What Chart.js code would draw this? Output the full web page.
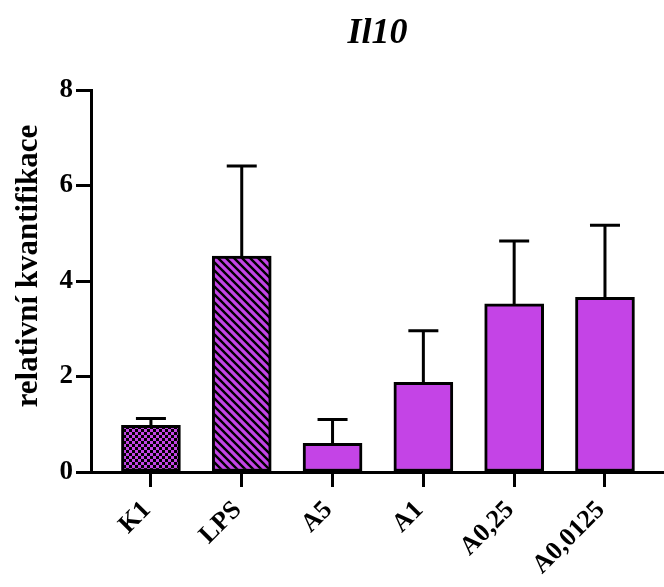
<!DOCTYPE html>
<html>
<head>
<meta charset="utf-8">
<script src="https://cdn.jsdelivr.net/npm/chart.js@4/dist/chart.umd.min.js"></script>
<style>
  html, body { margin: 0; padding: 0; background: #ffffff; }
  #wrap { width: 664px; height: 587px; position: relative; }
</style>
</head>
<body>
<div id="wrap"><canvas id="c" width="664" height="587"></canvas></div>
<script>
const chartTitle = 'Il10';
const yAxisTitle = 'relativní kvantifikace';
const categories = ['K1', 'LPS', 'A5', 'A1', 'A0,25', 'A0,0125'];
const means = [0.98, 4.52, 0.60, 1.88, 3.52, 3.66];
const sdUpper = [0.14, 1.89, 0.50, 1.08, 1.32, 1.51];
const yTicks = [0, 2, 4, 6, 8];

const PURPLE = '#c444e6';
const FONT = '"Liberation Serif", "DejaVu Serif", serif';

function checkerPattern() {
  const c = document.createElement('canvas');
  c.width = 6; c.height = 6;
  const g = c.getContext('2d');
  g.fillStyle = PURPLE; g.fillRect(0, 0, 6, 6);
  g.fillStyle = '#000';
  g.fillRect(0, 0, 3, 3); g.fillRect(3, 3, 3, 3);
  return g.createPattern(c, 'repeat');
}
function stripePattern() {
  const s = 8;
  const c = document.createElement('canvas');
  c.width = s; c.height = s;
  const g = c.getContext('2d');
  g.fillStyle = PURPLE; g.fillRect(0, 0, s, s);
  g.strokeStyle = '#000'; g.lineWidth = 2.4;
  g.beginPath();
  g.moveTo(-s, -s); g.lineTo(2 * s, 2 * s);
  g.moveTo(-s, 0); g.lineTo(s, 2 * s);
  g.moveTo(0, -s); g.lineTo(2 * s, s);
  g.stroke();
  return g.createPattern(c, 'repeat');
}

const fills = categories.map((_, i) => i === 0 ? checkerPattern() : (i === 1 ? stripePattern() : PURPLE));

const errorBars = {
  id: 'errorBars',
  afterDatasetsDraw(chart) {
    const ctx = chart.ctx;
    const meta = chart.getDatasetMeta(0);
    const ys = chart.scales.y;
    ctx.save();
    ctx.strokeStyle = '#000';
    ctx.lineWidth = 3;
    ctx.lineCap = 'butt';
    meta.data.forEach((bar, i) => {
      const top = ys.getPixelForValue(means[i] + sdUpper[i]);
      const base = bar.y;
      ctx.beginPath();
      ctx.moveTo(bar.x, base);
      ctx.lineTo(bar.x, top);
      ctx.moveTo(bar.x - 15, top);
      ctx.lineTo(bar.x + 15, top);
      ctx.stroke();
    });
    ctx.restore();
  }
};

const titlePlugin = {
  id: 'topTitle',
  afterDraw(chart) {
    const ctx = chart.ctx;
    const a = chart.chartArea;
    ctx.save();
    ctx.fillStyle = '#000';
    ctx.font = 'italic bold 36px ' + FONT;
    ctx.textAlign = 'center';
    ctx.textBaseline = 'alphabetic';
    ctx.fillText(chartTitle, (a.left + a.right) / 2, 43);
    // y axis title
    ctx.translate(29, (a.top + a.bottom) / 2 - 15);
    ctx.rotate(-Math.PI / 2);
    ctx.font = 'bold 31px ' + FONT;
    ctx.textBaseline = 'middle';
    ctx.fillText(yAxisTitle, 0, 0);
    ctx.restore();
  }
};

new Chart(document.getElementById('c'), {
  type: 'bar',
  data: {
    datasets: [{
      data: means.map((v, i) => ({ x: i, y: v })),
      backgroundColor: fills,
      borderColor: '#000',
      borderWidth: 3,
      borderSkipped: false,
      barThickness: 59
    }]
  },
  options: {
    responsive: false,
    animation: false,
    devicePixelRatio: 1,
    layout: { padding: { top: 90, left: 0, right: 0, bottom: 0 } },
    plugins: { legend: { display: false }, tooltip: { enabled: false }, title: { display: false } },
    scales: {
      x: {
        type: 'linear',
        offset: false,
        min: -0.66,
        max: 5.65,
        afterBuildTicks(scale) { scale.ticks = categories.map((_, i) => ({ value: i })); },
        afterFit(scale) { scale.height = 115; },
        ticks: {
          autoSkip: false,
          maxRotation: 45,
          minRotation: 45,
          padding: 8,
          labelOffset: -4,
          color: '#000',
          font: { family: FONT, size: 26, weight: 'bold' },
          callback: (v) => categories[v]
        },
        grid: { offset: false, drawOnChartArea: false, drawTicks: true, tickLength: 15, tickWidth: 3, color: '#000' },
        border: { display: true, width: 3, color: '#000' }
      },
      y: {
        min: 0,
        max: 8,
        afterBuildTicks(scale) { scale.ticks = yTicks.map(v => ({ value: v })); },
        afterFit(scale) { scale.width = 91; },
        ticks: {
          padding: 3,
          color: '#000',
          font: { family: FONT, size: 27, weight: 'bold' }
        },
        title: { display: false, text: yAxisTitle },
        grid: { drawOnChartArea: false, drawTicks: true, tickLength: 15, tickWidth: 3, color: '#000' },
        border: { display: true, width: 3, color: '#000' }
      }
    }
  },
  plugins: [errorBars, titlePlugin]
});
</script>
</body>
</html>
